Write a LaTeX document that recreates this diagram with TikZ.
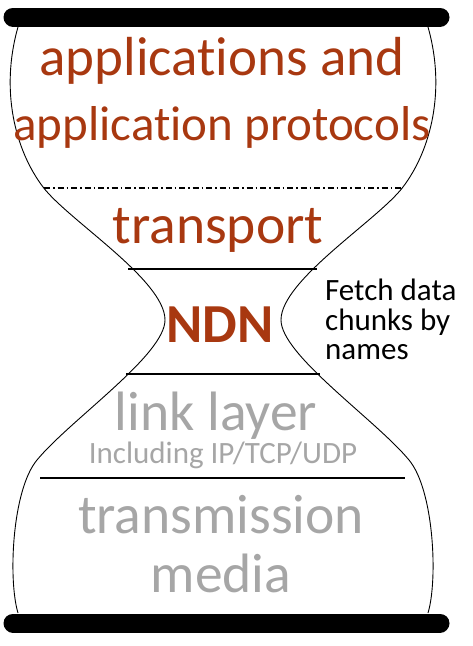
\documentclass[tikz,border=0pt]{standalone}
\usepackage{fontspec}
\setmainfont{Carlito}[Ligatures=NoCommon]
\usepackage{xcolor}
\usepackage{tikz}
\definecolor{layerred}{RGB}{168,56,16}
\definecolor{layergray}{RGB}{166,166,166}
\tikzset{
  bigtext/.style={font=\fontsize{55.5}{60}\selectfont, text=layerred, inner sep=0pt, anchor=base},
  greytext/.style={bigtext, text=layergray},
  smallgrey/.style={font=\fontsize{31}{34}\selectfont, text=layergray, inner sep=0pt, anchor=base},
  notetext/.style={font=\fontsize{31}{34}\selectfont, inner sep=0pt, anchor=base west},
  bar/.style={line width=19pt, line cap=round},
  outline/.style={line width=0.9pt},
  divider/.style={line width=1.2pt}
}
\begin{document}
\begin{tikzpicture}[x=1pt,y=-1pt]
            \useasboundingbox (0,0) rectangle (472,646);
            % glass outline
            \draw [outline] (18,27) .. controls (0,90) and (15,150) .. (43,187)
                .. controls (68,220) and (165,280) .. (165,320)
                .. controls (165,355) and (70,420) .. (37,460)
                .. controls (12,490) and (8,580) .. (18,613);
            \draw [outline] (428,27) .. controls (446,90) and (431,150) .. (403,187)
                .. controls (378,220) and (281,280) .. (281,320)
                .. controls (281,355) and (376,420) .. (409,460)
                .. controls (434,490) and (438,580) .. (428,613);
            % bars
            \draw [bar] (13,17) -- (440,17);
            \draw [bar] (13,623) -- (440,623);
            % layer dividers
            \draw [divider, dash pattern=on 6pt off 3pt on 1.5pt off 3pt] (44,188) -- (401,188);
            \draw [divider] (128,269) -- (317,269);
            \draw [divider] (126,374) -- (320,374);
            \draw [divider] (40,478) -- (405,478);
            % texts
            \node [bigtext, font=\fontsize{55}{60}\selectfont] (app1) at (222,75) {applications and};
            \node [bigtext, font=\fontsize{49}{60}\selectfont] (app2) at (222,140) {application protocols};
            \node [bigtext] (transport) at (218,243) {transport};
            \node [bigtext, font=\fontsize{55}{60}\selectfont\bfseries] (ndn) at (220,342) {NDN};
            \node [notetext] (fetch1) at (325,300) {Fetch data};
            \node [notetext] (fetch2) at (325,330) {chunks by};
            \node [notetext] (fetch3) at (325,359) {names};
            \node [greytext] (link) at (216,430) {link layer};
            \node [smallgrey] (incl) at (223,463) {Including IP/TCP/UDP};
            \node [greytext] (trans) at (221,533) {transmission};
            \node [greytext] (media) at (221,592) {media};
        \end{tikzpicture}
\end{document}
